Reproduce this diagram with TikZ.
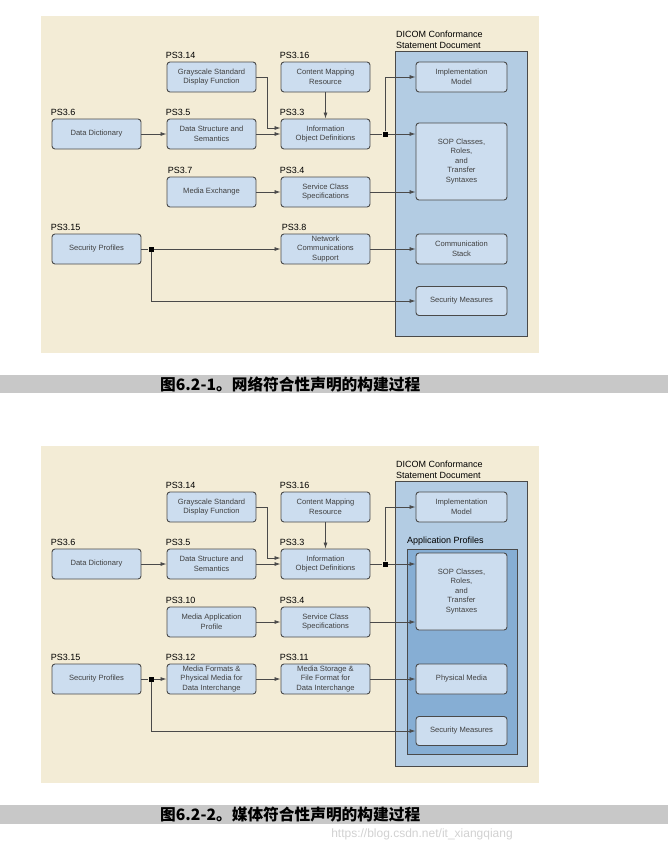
\documentclass[tikz,border=0pt]{standalone}
\usepackage{fontspec}
\setmainfont{Liberation Sans}
\newfontfamily\cjk{Noto Sans CJK SC}
\usetikzlibrary{arrows.meta}
\definecolor{paper}{HTML}{F3ECD6}
\definecolor{boxblue}{HTML}{CCDDEF}
\definecolor{docblue}{HTML}{B3CCE3}
\definecolor{appblue}{HTML}{86AED4}
\definecolor{edge}{HTML}{4A4A4A}
\definecolor{capgray}{HTML}{C8C8C8}

\begin{document}
\begin{tikzpicture}[x=1pt, y=-1pt,
  part/.style={draw=edge, line width=0.9pt, fill=boxblue, rounded corners=3pt,
    minimum width=89pt, minimum height=30pt, inner sep=1pt, align=center,
    text=black!75, font=\fontsize{7.6}{9.5}\selectfont},
  pslabel/.style={anchor=south west, inner sep=0pt, xshift=-1pt, yshift=3pt,
    font=\fontsize{9}{10}\selectfont},
  doclabel/.style={anchor=south west, inner sep=0pt, align=left,
    font=\fontsize{9}{11}\selectfont},
  link/.style={draw=edge, line width=0.8pt, -{Latex[length=6pt,width=4pt]}},
  wire/.style={draw=edge, line width=0.8pt},
  junc/.style={fill=black, minimum size=5pt, inner sep=0pt},
  captext/.style={anchor=west, inner sep=0pt, font=\cjk\bfseries\fontsize{15.7}{16}\selectfont}]
\useasboundingbox (0,0) rectangle (668,849);

% network conformance
\fill[paper] (41,16) rectangle (539,353);
\draw[edge, line width=0.9pt, fill=docblue] (395,51) rectangle (527,336);
\path (396,49) node[doclabel] (doc) {DICOM Conformance\\Statement Document};
\path (211.5,77) node[part, label={[pslabel]north west:PS3.14}] (gsdf) {Grayscale Standard\\Display Function};
\path (325.5,77) node[part, label={[pslabel]north west:PS3.16}] (cmr) {Content Mapping\\Resource};
\path (96.5,134) node[part, label={[pslabel]north west:PS3.6}] (dd) {Data Dictionary};
\path (211.5,134) node[part, label={[pslabel]north west:PS3.5}] (dss) {Data Structure and\\Semantics};
\path (325.5,134) node[part, label={[pslabel]north west:PS3.3}] (iod) {Information\\Object Definitions};
\path (211.5,192) node[part, label={[pslabel, xshift=2pt]north west:PS3.7}] (mex) {Media Exchange};
\path (325.5,192) node[part, label={[pslabel]north west:PS3.4}] (scs) {Service Class\\Specifications};
\path (96.5,249) node[part, label={[pslabel]north west:PS3.15}] (sp) {Security Profiles};
\path (325.5,249) node[part, label={[pslabel, xshift=2pt]north west:PS3.8}] (ncs) {Network\\Communications\\Support};
\path (461.5,77) node[part, minimum width=91pt] (impl) {Implementation\\Model};
\path (461.5,161.5) node[part, minimum width=91pt, minimum height=77pt] (sop) {SOP Classes,\\Roles,\\and\\Transfer\\Syntaxes};
\path (461.5,249) node[part, minimum width=91pt] (cst) {Communication\\Stack};
\path (461.5,301) node[part, minimum width=91pt, minimum height=29pt] (sec) {Security Measures};
\path (385,134) node[junc] (j1) {};
\path (151,249) node[junc] (j2) {};
\draw[link] (dd) -- (dss);
\draw[link] (gsdf.east) -- ++(11,0) |- ([yshift=6pt]iod.west);
\draw[link] (dss) -- (iod);
\draw[link] (cmr) -- (iod);
\draw[wire] (iod) -- (j1);
\draw[link] (j1) |- (impl);
\draw[link] (j1) -- (sop.west |- j1);
\draw[link] (mex) -- (scs);
\draw[link] (scs) -- (sop.west |- scs);
\draw[wire] (sp) -- (j2);
\draw[link] (j2) -- (ncs);
\draw[link] (j2) |- (sec);
\draw[link] (ncs) -- (cst);
\fill[capgray] (0,375) rectangle (668,393);
\path (160,384) node[captext] (cap1) {图6.2-1。网络符合性声明的构建过程};

% media conformance
\begin{scope}[shift={(0,430)}]
\fill[paper] (41,16) rectangle (539,353);
\draw[edge, line width=0.9pt, fill=docblue] (395,51) rectangle (527,336);
\path (396,49) node[doclabel] (doc) {DICOM Conformance\\Statement Document};
\draw[edge, line width=0.9pt, fill=appblue] (407,119) rectangle (517,324);
\path (407,116) node[doclabel] (app) {Application Profiles};
\path (211.5,77) node[part, label={[pslabel]north west:PS3.14}] (gsdf) {Grayscale Standard\\Display Function};
\path (325.5,77) node[part, label={[pslabel]north west:PS3.16}] (cmr) {Content Mapping\\Resource};
\path (96.5,134) node[part, label={[pslabel]north west:PS3.6}] (dd) {Data Dictionary};
\path (211.5,134) node[part, label={[pslabel]north west:PS3.5}] (dss) {Data Structure and\\Semantics};
\path (325.5,134) node[part, label={[pslabel]north west:PS3.3}] (iod) {Information\\Object Definitions};
\path (211.5,192) node[part, label={[pslabel]north west:PS3.10}] (map) {Media Application\\Profile};
\path (325.5,192) node[part, label={[pslabel]north west:PS3.4}] (scs) {Service Class\\Specifications};
\path (96.5,249) node[part, label={[pslabel]north west:PS3.15}] (sp) {Security Profiles};
\path (211.5,249) node[part, label={[pslabel]north west:PS3.12}] (mfp) {Media Formats \&\\Physical Media for\\Data Interchange};
\path (325.5,249) node[part, label={[pslabel]north west:PS3.11}] (msf) {Media Storage \&\\File Format for\\Data Interchange};
\path (461.5,77) node[part, minimum width=91pt] (impl) {Implementation\\Model};
\path (461.5,161.5) node[part, minimum width=91pt, minimum height=77pt] (sop) {SOP Classes,\\Roles,\\and\\Transfer\\Syntaxes};
\path (461.5,249) node[part, minimum width=91pt] (phm) {Physical Media};
\path (461.5,301) node[part, minimum width=91pt, minimum height=29pt] (sec) {Security Measures};
\path (385,134) node[junc] (j1) {};
\path (151,249) node[junc] (j2) {};
\draw[link] (dd) -- (dss);
\draw[link] (gsdf.east) -- ++(11,0) |- ([yshift=6pt]iod.west);
\draw[link] (dss) -- (iod);
\draw[link] (cmr) -- (iod);
\draw[wire] (iod) -- (j1);
\draw[link] (j1) |- (impl);
\draw[link] (j1) -- (sop.west |- j1);
\draw[link] (map) -- (scs);
\draw[link] (scs) -- (sop.west |- scs);
\draw[wire] (sp) -- (j2);
\draw[link] (j2) -- (mfp);
\draw[link] (j2) |- (sec);
\draw[link] (mfp) -- (msf);
\draw[link] (msf) -- (phm);
\fill[capgray] (0,375) rectangle (668,394);
\path (160,384.5) node[captext] (cap2) {图6.2-2。媒体符合性声明的构建过程};
\end{scope}
\path (422,834) node[font=\fontsize{12}{12}\selectfont, text=black!18] (mark) {https://blog.csdn.net/it\_xiangqiang};
\end{tikzpicture}
\end{document}
